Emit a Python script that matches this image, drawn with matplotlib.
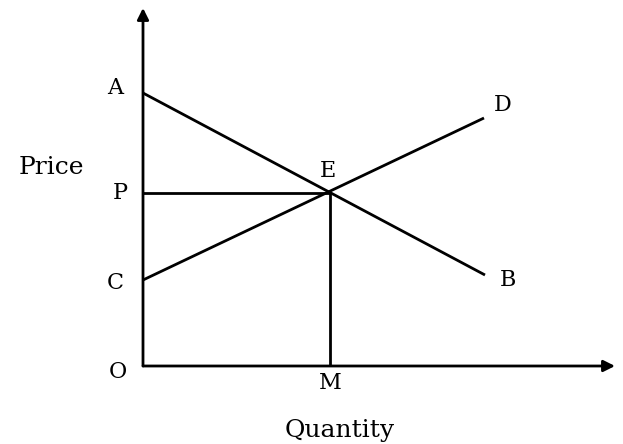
import matplotlib
matplotlib.use("Agg")
import matplotlib.pyplot as plt

# axis units are pixel offsets from the origin O
demand_x = [0, 342]          # A -> B
demand_y = [273, 91]
supply_x = [0, 341]          # C -> D
supply_y = [86, 248]
eq_x, eq_y = 187, 173        # E
axis_x_end = 472
axis_y_end = 358

point_labels = ["A", "P", "C", "O", "M", "E", "D", "B"]
label_x = [-28, -23, -28, -25, 187, 185, 360, 365]
label_y = [278, 173, 83, -6, -17, 195, 261, 86]

plt.rcParams.update({
    "font.family": "DejaVu Serif",
    "font.size": 16,
})

fig = plt.figure(figsize=(6.23, 4.44), dpi=100)
ax = fig.add_axes([0, 0, 1, 1])
ax.set_xlim(-143, 480)
ax.set_ylim(-78, 366)
ax.axis("off")

lw = 2.0
arrow = dict(arrowstyle="-|>", color="black", lw=lw, mutation_scale=17, shrinkA=0, shrinkB=0)
ax.annotate("", xy=(axis_x_end, 0), xytext=(0, 0), arrowprops=arrow)
ax.annotate("", xy=(0, axis_y_end), xytext=(0, 0), arrowprops=arrow)

ax.plot(demand_x, demand_y, color="black", lw=lw, solid_capstyle="butt")
ax.plot(supply_x, supply_y, color="black", lw=lw, solid_capstyle="butt")
ax.plot([0, eq_x], [eq_y, eq_y], color="black", lw=lw, solid_capstyle="butt")
ax.plot([eq_x, eq_x], [0, eq_y], color="black", lw=lw, solid_capstyle="butt")

for name, tx, ty in zip(point_labels, label_x, label_y):
    ax.text(tx, ty, name, ha="center", va="center", fontsize=16)

ax.text(-92, 199, "Price", ha="center", va="center", fontsize=18)
ax.text(197, -64, "Quantity", ha="center", va="center", fontsize=18)

fig.savefig("out.png", dpi=100)
